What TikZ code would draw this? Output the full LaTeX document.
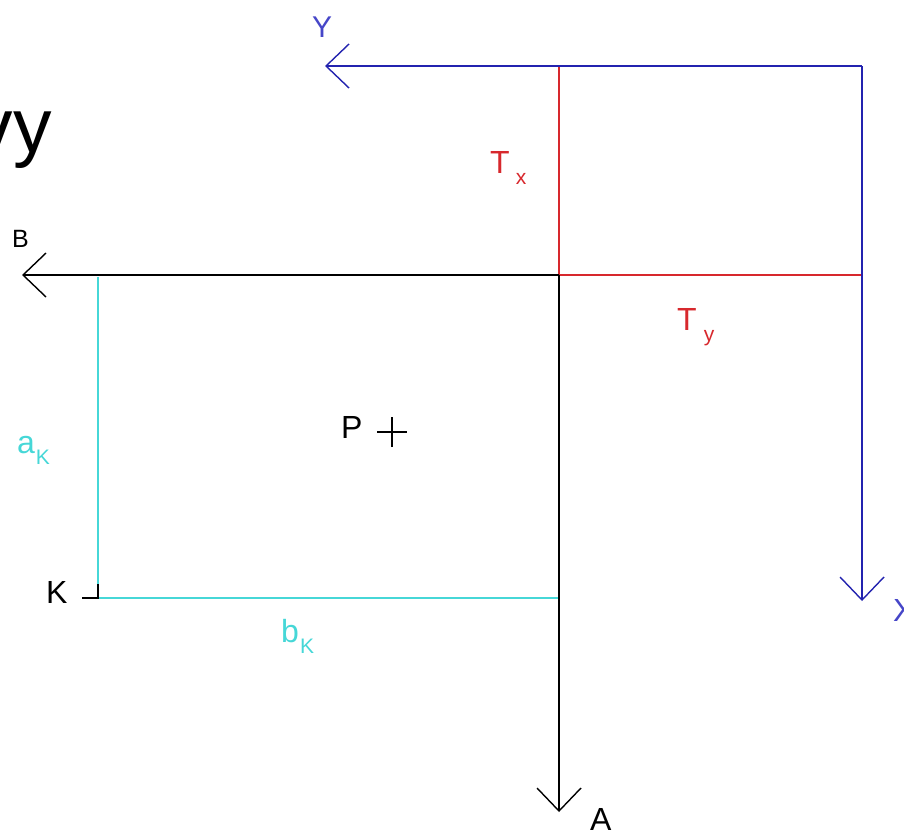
\documentclass[tikz,border=0pt]{standalone}
\usepackage{fontspec}
\setmainfont{Liberation Sans}
\usetikzlibrary{arrows.meta}

\definecolor{axisblue}{RGB}{35,35,175}
\definecolor{lblblue}{RGB}{70,70,200}
\definecolor{trred}{RGB}{215,40,45}
\definecolor{kcyan}{RGB}{70,215,215}

\newcommand{\lsub}[3]{#1\hspace{#3}\raisebox{-11pt}{\fontsize{21}{21}\selectfont #2}}

\begin{document}
\begin{tikzpicture}[x=1pt, y=-1pt,
    axis/.style={line width=2.3pt, -{Straight Barb[length=23pt,width=44pt,line width=1.4pt]}},
    edge/.style={line width=2.3pt},
    lbl/.style={inner sep=0pt, anchor=base west, font=\fontsize{32}{32}\selectfont}]
    \useasboundingbox (0,0) rectangle (904,831);

    % points of the frames
    \coordinate (O) at (559,275);
    \coordinate (C) at (862,66);
    \coordinate (Ytip) at (325,66);
    \coordinate (Xtip) at (862,601);
    \coordinate (Btip) at (22,275);
    \coordinate (Atip) at (559,812);
    \coordinate (Txtop) at (559,66);
    \coordinate (Tyend) at (862,275);
    \coordinate (K) at (98,598);
    \coordinate (Ktop) at (98,277);
    \coordinate (Kend) at (559,598);
    \coordinate (P) at (392,432);

    % translation
    \draw[edge, trred] (Txtop) -- (O) -- (Tyend);
    % field frame
    \draw[edge, kcyan] (Ktop) -- (K) -- (Kend);
    \draw[axis, black] (O) -- (Btip);
    \draw[axis, black] (O) -- (Atip);
    % map frame
    \draw[axis, axisblue] (C) -- (Ytip);
    \draw[axis, axisblue] (C) -- (Xtip);

    \draw[line width=1.5pt] ([xshift=-16pt]K) -- (K) -- ([yshift=14pt]K);
    \draw[line width=1.5pt] ([xshift=-15pt]P) -- ([xshift=15pt]P);
    \draw[line width=1.5pt] ([yshift=-15pt]P) -- ([yshift=15pt]P);

    \node[lbl, font=\fontsize{77}{77}\selectfont, anchor=base east] (vy) at (52,152) {vy};
    \node[lbl, text=lblblue, font=\fontsize{30}{30}\selectfont] (Ylbl) at (312,37) {Y};
    \node[lbl, text=lblblue] (Xlbl) at (893,621) {X};
    \node[lbl, font=\fontsize{25}{25}\selectfont] (Blbl) at (12,247) {B};
    \node[lbl] (Albl) at (590,830) {A};
    \node[lbl, text=trred] (Txlbl) at (490,173) {\lsub{T}{x}{6pt}};
    \node[lbl, text=trred] (Tylbl) at (677,330) {\lsub{T}{y}{7pt}};
    \node[lbl, text=kcyan] (aKlbl) at (17,453) {\lsub{a}{K}{1pt}};
    \node[lbl, text=kcyan] (bKlbl) at (281,642) {\lsub{b}{K}{1pt}};
    \node[lbl] (Klbl) at (46,603) {K};
    \node[lbl] (Plbl) at (341,438) {P};
\end{tikzpicture}
\end{document}
